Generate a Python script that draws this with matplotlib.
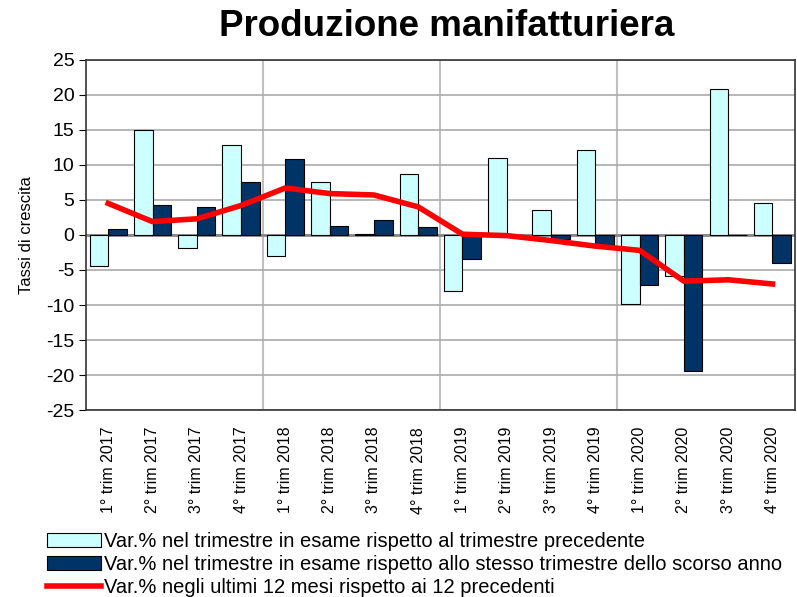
import numpy as np
import matplotlib.pyplot as plt

plt.rcParams['font.family'] = ['Liberation Sans', 'DejaVu Sans']
plt.rcParams['axes.unicode_minus'] = False

# -----------------------------
# Data
# -----------------------------
quarters = ['1° trim 2017', '2° trim 2017', '3° trim 2017', '4° trim 2017',
            '1° trim 2018', '2° trim 2018', '3° trim 2018', '4° trim 2018',
            '1° trim 2019', '2° trim 2019', '3° trim 2019', '4° trim 2019',
            '1° trim 2020', '2° trim 2020', '3° trim 2020', '4° trim 2020']
var_congiunturale = [-4.4, 15.0, -1.8, 12.8, -3.0, 7.5, 0.1, 8.7,
                     -8.0, 11.0, 3.5, 12.1, -9.8, -5.9, 20.8, 4.6]
var_tendenziale = [0.8, 4.2, 4.0, 7.5, 10.9, 1.3, 2.2, 1.1,
                   -3.5, 0.0, -0.6, -1.4, -7.1, -19.4, 0.0, -4.0]
var_12mesi = [4.5, 1.9, 2.3, 4.2, 6.7, 5.9, 5.7, 4.0,
              0.1, -0.1, -0.8, -1.6, -2.2, -6.6, -6.4, -7.0]

x = np.arange(len(quarters))
w = 0.42

fig = plt.figure(figsize=(7.97, 5.97), dpi=100)
ax = fig.add_axes([0.108, 0.313, 0.889, 0.587])

ax.bar(x - w / 2, var_congiunturale, width=w, color='#CCFFFF', edgecolor='black',
       linewidth=0.8, zorder=3,
       label='Var.% nel trimestre in esame rispetto al trimestre precedente')
ax.bar(x + w / 2, var_tendenziale, width=w, color='#003366', edgecolor='black',
       linewidth=0.8, zorder=3,
       label='Var.% nel trimestre in esame rispetto allo stesso trimestre dello scorso anno')
ax.plot(x, var_12mesi, color='red', linewidth=4, zorder=4,
        label='Var.% negli ultimi 12 mesi rispetto ai 12 precedenti')

ax.set_xlim(-0.5, len(quarters) - 0.5)
ax.set_ylim(-25, 25)
ax.set_yticks(range(-25, 26, 5))
ax.yaxis.grid(True, color='#aaaaaa', linewidth=1.2, zorder=0)
for b in [3.5, 7.5, 11.5]:
    ax.axvline(b, color='#c0c0c0', linewidth=1.5, zorder=0)
ax.axhline(0, color='#888888', linewidth=2, zorder=2)

ax.set_xticks(x)
ax.set_xticklabels(quarters, rotation=90, fontsize=11.5)
ax.tick_params(axis='x', length=0, pad=12)
ax.tick_params(axis='y', labelsize=14, direction='out', length=5)
ax.set_ylabel('Tassi di crescita', fontsize=12, labelpad=9)

for s in ax.spines.values():
    s.set_linewidth(1.2)
    s.set_color('#333333')

fig.suptitle('Produzione manifatturiera', fontsize=26.5, fontweight='bold', x=0.56, y=0.985)

# legend order: bars first, then line
h, l = ax.get_legend_handles_labels()
order = [1, 2, 0]
fig.legend([h[i] for i in order], [l[i] for i in order],
           loc='upper left', bbox_to_anchor=(47 / 797, 1 - 532 / 597), frameon=False,
           fontsize=14.5, handlelength=2.7, handleheight=0.7, labelspacing=0.2,
           handletextpad=0.15, borderpad=0, borderaxespad=0)

fig.savefig('out.png', dpi=100)
